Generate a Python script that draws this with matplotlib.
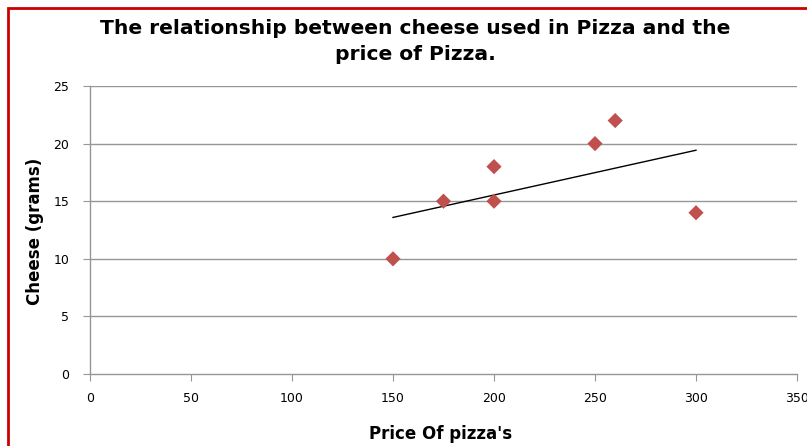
import matplotlib
matplotlib.use("Agg")
import matplotlib.pyplot as plt
import numpy as np
from matplotlib.patches import Rectangle

price = [150, 175, 200, 200, 250, 260, 300]
cheese = [10, 15, 18, 15, 20, 22, 14]
x_ticks = [0, 50, 100, 150, 200, 250, 300, 350]
y_ticks = [0, 5, 10, 15, 20, 25]

W, H = 807, 446
fig = plt.figure(figsize=(W / 100, H / 100), dpi=100)
ax = fig.add_axes([90 / W, 1 - 374 / H, (797 - 90) / W, (374 - 86) / H])

ax.set_xlim(0, 350)
ax.set_ylim(0, 25)
ax.set_xticks(x_ticks)
ax.set_yticks(y_ticks)
for y in y_ticks[1:]:
    ax.axhline(y, color="#969696", lw=1.0, zorder=1)

ax.scatter(price, cheese, marker="D", s=60, color="#C0504D", edgecolors="none", zorder=3)

coef = np.polyfit(price, cheese, 1)
xs = np.array([min(price), max(price)])
ax.plot(xs, np.polyval(coef, xs), color="black", lw=1.0, zorder=2)

for s in ["top", "right"]:
    ax.spines[s].set_visible(False)
for s in ["left", "bottom"]:
    ax.spines[s].set_color("#969696")
    ax.spines[s].set_linewidth(1.0)
ax.tick_params(axis="both", direction="out", length=5, color="#969696", labelsize=9, labelcolor="black")
ax.tick_params(axis="x", pad=8)
ax.tick_params(axis="y", pad=10)

fig.text(415 / W, 1 - 28 / H, "The relationship between cheese used in Pizza and the",
         ha="center", va="center", fontsize=14.6, fontweight="bold")
fig.text(415 / W, 1 - 55 / H, "price of Pizza.",
         ha="center", va="center", fontsize=14.6, fontweight="bold")
fig.text(441 / W, 1 - 434 / H, "Price Of pizza's", ha="center", va="center",
         fontsize=12, fontweight="bold")
fig.text(35 / W, 1 - 231 / H, "Cheese (grams)", ha="center", va="center",
         fontsize=12, fontweight="bold", rotation=90)

fig.patches.append(Rectangle((8 / W, -0.1), 1.2, (1 - 8 / H) + 0.1, transform=fig.transFigure,
                             fill=False, edgecolor="#CC0000", lw=2))

fig.savefig("out.png", dpi=100)
